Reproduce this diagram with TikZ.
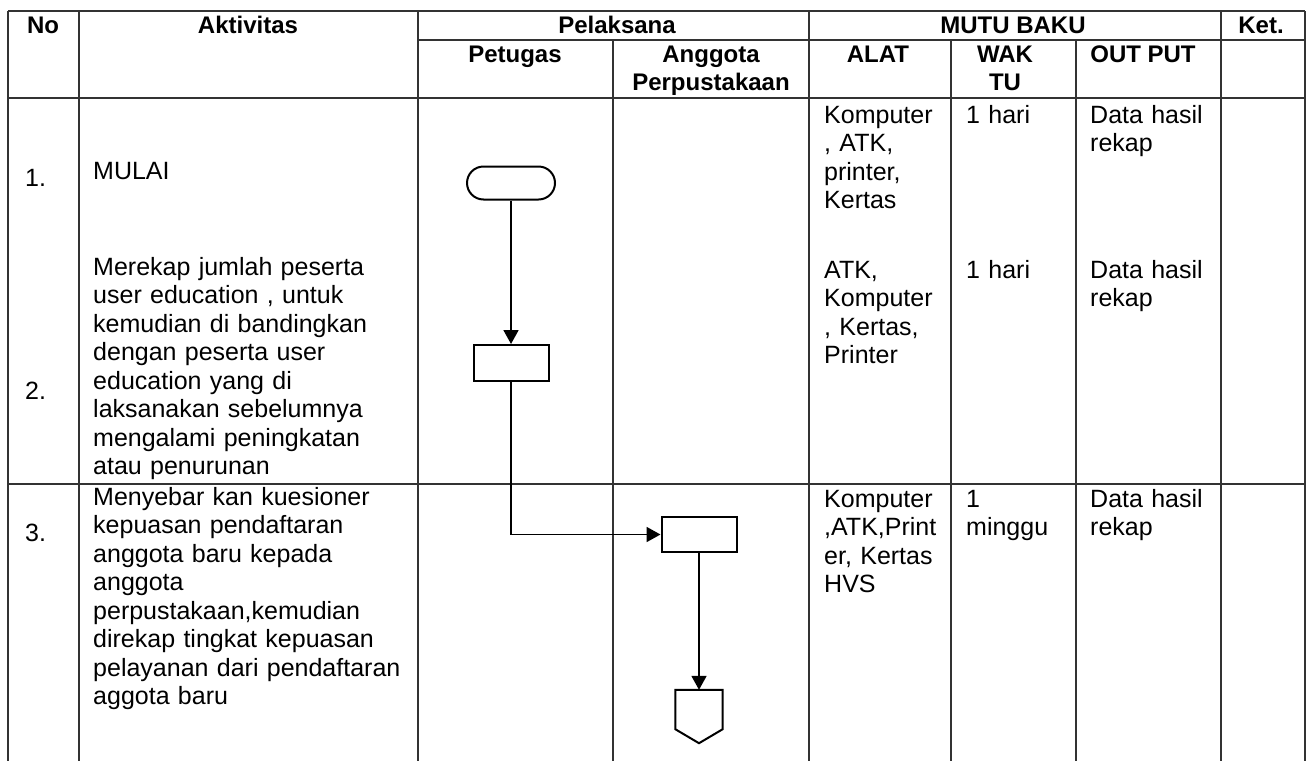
\documentclass[tikz,border=0pt]{standalone}
\usepackage{fontspec}
\setmainfont{Liberation Sans}
\usetikzlibrary{arrows.meta,positioning}
\newcommand{\bodyfont}{\fontsize{25}{28.5}\selectfont}
\newcommand{\headfont}{\fontsize{24}{28.5}\selectfont\bfseries}

\begin{document}
\begin{tikzpicture}[x=1pt,y=-1pt,
    rule/.style={line width=1.2pt,black!80},
    hd/.style={font=\headfont,inner sep=0pt,anchor=base},
    txt/.style={font=\bodyfont,inner sep=0pt,anchor=base west,align=left,text width=#1},
    txt/.default=320pt,
    proc/.style={draw,line width=2pt,inner sep=0pt,minimum width=75pt,minimum height=36pt},
    term/.style={draw,line width=2pt,inner sep=0pt,rounded corners=16.5pt,minimum width=88pt,minimum height=33pt},
    flow/.style={line width=1.8pt,-{Triangle[length=14pt,width=15pt]}}]
  \useasboundingbox (0,0) rectangle (1314,761);
  \fill[white] (0,0) rectangle (1314,761);

  % garis tabel
  \draw[rule] (8,11) -- (1305,11);
  \draw[rule] (418,40) -- (1305,40);
  \draw[rule] (8,98) -- (1305,98);
  \draw[rule] (8,484) -- (1305,484);
  \foreach \x in {8,79,418,809,1221,1305}
    \draw[rule] (\x,11) -- (\x,761);
  \foreach \x in {613,951,1076}
    \draw[rule] (\x,40) -- (\x,761);

  % kepala tabel
  \node[hd] (no) at (43,33) {No};
  \node[hd] (akt) at (248,33) {Aktivitas};
  \node[hd] (pel) at (617,33) {Pelaksana};
  \node[hd] (mutu) at (1013,33) {MUTU BAKU};
  \node[hd] (ket) at (1261,33) {Ket.};
  \node[hd] (pet) at (515,62) {Petugas};
  \node[hd] (agt) at (711,62) {Anggota};
  \node[hd] (agt2) at (711,90) {Perpustakaan};
  \node[hd] (alat) at (878,62) {ALAT};
  \node[hd] (wak) at (1005,62) {WAK};
  \node[hd] (tu) at (1005,90) {TU};
  \node[hd] (out) at (1143,62) {OUT PUT};

  % isi
  \node[txt=50pt] (n1) at (25,186) {1.};
  \node[txt=50pt] (n2) at (25,399) {2.};
  \node[txt=50pt] (n3) at (25,541) {3.};
  \node[txt] (a1) at (93,179) {MULAI};
  \node[txt] (a2) at (93,275) {Merekap jumlah peserta\\user education , untuk\\kemudian di bandingkan\\dengan peserta user\\education yang di\\laksanakan sebelumnya\\mengalami peningkatan\\atau penurunan};
  \node[txt] (a3) at (93,505) {Menyebar kan kuesioner\\kepuasan pendaftaran\\anggota baru kepada\\anggota\\perpustakaan,kemudian\\direkap tingkat kepuasan\\pelayanan dari pendaftaran\\aggota baru};

  \node[txt=125pt] (al1) at (824,123) {Komputer\\, ATK,\\printer,\\Kertas};
  \node[txt=125pt] (al2) at (824,278) {ATK,\\Komputer\\, Kertas,\\Printer};
  \node[txt=125pt] (al3) at (824,507) {Komputer\\,ATK,Print\\er, Kertas\\HVS};
  \node[txt=105pt] (w1) at (966,123) {1 hari};
  \node[txt=105pt] (w2) at (966,278) {1 hari};
  \node[txt=105pt] (w3) at (966,507) {1\\minggu};
  \node[txt=125pt] (o1) at (1090,123) {Data hasil\\rekap};
  \node[txt=125pt] (o2) at (1090,278) {Data hasil\\rekap};
  \node[txt=125pt] (o3) at (1090,507) {Data hasil\\rekap};

  % bagan alir
  \node[term] (mulai) at (511,183) {};
  \node[proc] (rekap) at (511,363) {};
  \node[proc,minimum height=35pt] (sebar) at (699,534.5) {};
  \node[inner sep=0pt,minimum width=47pt,minimum height=53pt] (akhir) at (699,716.5) {};
  \draw[line width=2pt,line join=miter] (akhir.north west) -- (akhir.north east)
    -- ([yshift=14pt]akhir.south east) -- (akhir.south)
    -- ([yshift=14pt]akhir.south west) -- cycle;

  \draw[flow] (mulai) -- (rekap);
  \draw[flow] (rekap) |- (sebar);
  \draw[flow] (sebar) -- (akhir);
\end{tikzpicture}
\end{document}
